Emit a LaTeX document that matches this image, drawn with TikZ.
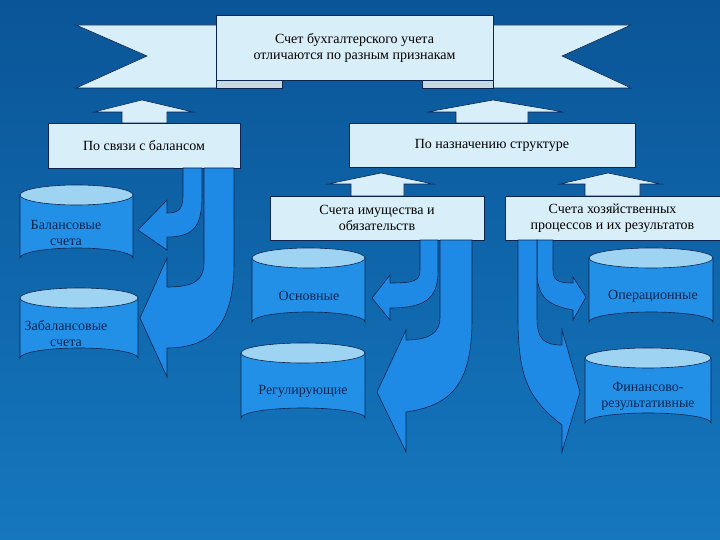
\documentclass[tikz,border=0pt]{standalone}
\usepackage{fontspec}
\setmainfont{Liberation Serif}
\definecolor{bgtop}{HTML}{0A5597}
\definecolor{bgbot}{HTML}{1577BE}
\definecolor{boxf}{HTML}{D8EFFA}
\definecolor{arrf}{HTML}{1E8AE6}
\definecolor{cylf}{HTML}{2290E6}
\definecolor{cyltop}{HTML}{9ED3F2}
\definecolor{olc}{HTML}{0B2450}
\begin{document}
\begin{tikzpicture}[x=1pt,y=-1pt,
  ol/.style={draw=olc,line width=0.6pt},
  box/.style={ol,fill=boxf,inner sep=0pt,font=\fontsize{14}{16}\selectfont,align=center},
  arr/.style={ol,fill=arrf},
  upa/.style={ol,fill=boxf},
  cylb/.style={ol,fill=cylf},
  cylt/.style={ol,fill=cyltop},
  lab/.style={font=\fontsize{14}{16}\selectfont,align=center,text=olc}]
\shade[top color=bgtop,bottom color=bgbot] (0,0) rectangle (720,540);
\useasboundingbox (0,0) rectangle (720,540);
% banner
\draw[upa] (222,25) -- (76,25) -- (147,56) -- (76,88) -- (222,88) -- cycle;
\draw[upa] (488,25) -- (631,25) -- (562,56) -- (631,88) -- (488,88) -- cycle;
\draw[ol,fill=boxf!80!gray] (216,80) -- (216,88) -- (282,88) -- (282,80) -- cycle;
\draw[ol,fill=boxf!80!gray] (422,80) -- (422,88) -- (493,88) -- (493,80) -- cycle;
\node[box,minimum width=277,minimum height=65] (title) at (354.5,47.5) {Счет бухгалтерского учета\\отличаются по разным признакам};
% up arrows
\draw[upa] (122,123) -- (122,112) -- (94,112) -- (142,100) -- (193,112) -- (167,112) -- (167,123) -- cycle;
\draw[upa] (456,123) -- (456,112) -- (427,112) -- (493,100) -- (564,112) -- (528,112) -- (528,123) -- cycle;
\draw[upa] (351,196) -- (351,184) -- (328,184) -- (381,173) -- (433,184) -- (404,184) -- (404,196) -- cycle;
\draw[upa] (585,196) -- (585,184) -- (560,184) -- (608,173) -- (661,184) -- (640,184) -- (640,196) -- cycle;
% boxes
\node[box,minimum width=192,minimum height=45] (svyaz) at (144,145.5) {По связи с балансом};
\node[box,minimum width=286,minimum height=44] (naz) at (492,145) {По назначению структуре};
\node[box,minimum width=214,minimum height=44] (imush) at (377,218) {Счета имущества и\\обязательств};
\node[box,minimum width=215,minimum height=44] (hoz) at (612.5,218) {Счета хозяйственных\\процессов и их результатов};
% bent arrows left
\draw[arr] (183,168) -- (183,195) .. controls (183,210) and (178,213) .. (167,213) -- (167,200) -- (138,230) -- (167,250) -- (167,237) .. controls (195,237) and (202,225) .. (202,195) -- (202,168) -- cycle;
\draw[arr] (204,168) -- (204,262) .. controls (204,280) and (195,287) .. (167,287) -- (167,258) -- (140,318) -- (167,377) -- (167,348) .. controls (215,348) and (234,320) .. (234,262) -- (234,168) -- cycle;
% middle
\draw[arr] (420,240) -- (420,270) .. controls (420,281) and (414,283) .. (390,283) -- (390,275) -- (372,298) -- (390,320) -- (390,308) .. controls (430,308) and (438,295) .. (438,270) -- (438,240) -- cycle;
\draw[arr] (440,240) -- (440,318) .. controls (440,332) and (430,340) .. (406,340) -- (406,330) -- (377,392) -- (406,452) -- (406,412) .. controls (455,405) and (472,380) .. (472,318) -- (472,240) -- cycle;
% right
\draw[arr] (553,240) -- (553,270) .. controls (553,281) and (559,283) .. (573,283) -- (573,277) -- (586,297) -- (573,320) -- (573,310) .. controls (545,305) and (537,295) .. (537,270) -- (537,240) -- cycle;
\draw[arr] (537,240) -- (537,318) .. controls (537,340) and (545,345) .. (562,345) -- (562,330) -- (580,392) -- (562,452) -- (562,425) .. controls (530,400) and (518,380) .. (518,318) -- (518,240) -- cycle;
% cylinders
\newcommand\mycyl[5]{%
 \draw[cylb] (#1,#2+10) -- (#1,#4-10) arc[start angle=180,end angle=360,x radius={(#3-#1)/2},y radius=10] -- (#3,#2+10) -- cycle;
 \draw[cylt] ({(#1+#3)/2},#2+10) ellipse[x radius={(#3-#1)/2},y radius=10];
 \coordinate (#5) at ({(#1+#3)/2},{(#2+#4)/2+8});}
\mycyl{20}{185}{133}{268}{c1}
\mycyl{20}{288}{138}{368}{c2}
\mycyl{252}{248}{365}{332}{c3}
\mycyl{241}{343}{365}{428}{c4}
\mycyl{589}{248}{713}{332}{c5}
\mycyl{585}{348}{711}{433}{c6}
\node[lab] at (66,233) {Балансовые\\счета};
\node[lab] at (66,334) {Забалансовые\\счета};
\node[lab] at (309,296) {Основные};
\node[lab] at (303,391) {Регулирующие};
\node[lab] at (653,296) {Операционные};
\node[lab] at (648,396) {Финансово-\\результативные};
\end{tikzpicture}
\end{document}
